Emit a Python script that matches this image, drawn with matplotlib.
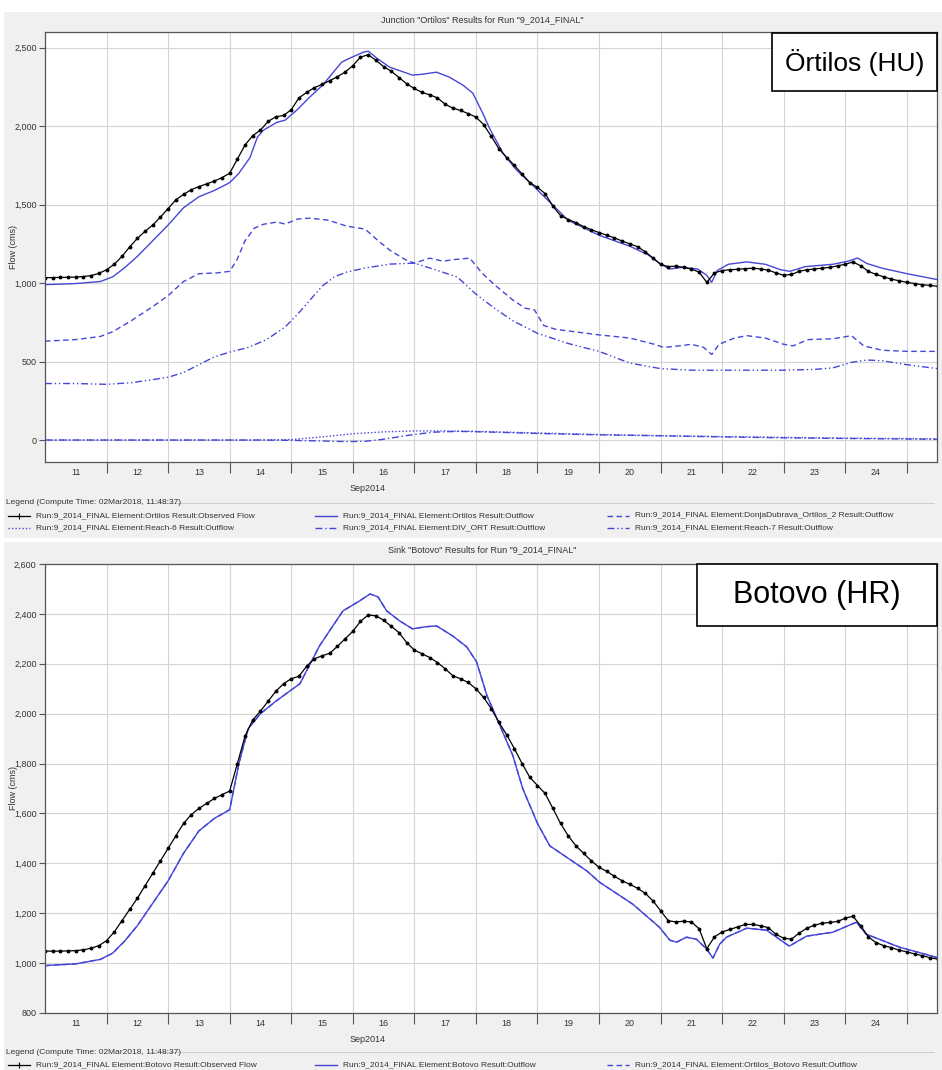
import matplotlib
matplotlib.use("Agg")
import matplotlib.pyplot as plt
from matplotlib.lines import Line2D
from matplotlib.patches import Rectangle
from matplotlib.ticker import FixedLocator, FuncFormatter
import numpy as np

plt.rcParams['font.family'] = ['Liberation Sans Narrow', 'Liberation Sans', 'DejaVu Sans']

W, H, DPI = 942, 1070, 100

# ---- data (day of Sep 2014, flow in cms) ----
OBS_START, OBS_STEP = 11.0, 0.125   # observed flow every 3 hours

ORT_OBS = [
    1035, 1035, 1036, 1037, 1038, 1042, 1048, 1062,
    1085, 1120, 1170, 1230, 1285, 1330, 1370, 1420,
    1475, 1530, 1565, 1595, 1615, 1632, 1650, 1672,
    1700, 1790, 1880, 1940, 1975, 2030, 2060, 2068,
    2105, 2180, 2215, 2245, 2266, 2290, 2315, 2345,
    2385, 2440, 2455, 2420, 2380, 2350, 2310, 2270,
    2240, 2215, 2200, 2180, 2140, 2115, 2100, 2080,
    2058, 2010, 1935, 1855, 1800, 1750, 1695, 1640,
    1610, 1570, 1490, 1430, 1405, 1385, 1360, 1340,
    1322, 1305, 1288, 1268, 1250, 1232, 1200, 1160,
    1120, 1105, 1108, 1100, 1090, 1070, 1005, 1065,
    1080, 1085, 1088, 1092, 1095, 1090, 1082, 1065,
    1050, 1055, 1075, 1085, 1090, 1095, 1100, 1110,
    1120, 1135, 1110, 1075, 1055, 1040, 1025, 1015,
    1005, 997, 990, 985, 980,
]

ORT_SIM_T = [11.0, 11.5, 11.9, 12.1, 12.3, 12.5, 12.75, 13.0, 13.25, 13.5, 13.75, 14.0,
             14.15, 14.33, 14.45, 14.55, 14.77, 14.9, 15.09, 15.3, 15.51, 15.82, 15.95,
             16.17, 16.25, 16.39, 16.6, 16.97, 17.13, 17.36, 17.57, 17.79, 17.95, 18.11,
             18.22, 18.44, 18.66, 18.92, 19.2, 19.5, 20.0, 20.5, 20.8, 21.0, 21.15, 21.35,
             21.6, 21.75, 21.83, 21.92, 22.1, 22.4, 22.7, 22.95, 23.1, 23.35, 23.8, 24.05,
             24.2, 24.35, 24.6, 25.0, 25.5]
ORT_SIM_Q = [990, 997, 1010, 1040, 1100, 1170, 1270, 1370, 1480, 1550, 1590, 1640,
             1700, 1800, 1930, 1975, 2025, 2038, 2102, 2185, 2261, 2408, 2433,
             2471, 2478, 2433, 2376, 2325, 2331, 2344, 2312, 2261, 2210, 2083,
             1987, 1828, 1720, 1624, 1516, 1400, 1305, 1235, 1180, 1120, 1090, 1100,
             1090, 1050, 1005, 1080, 1120, 1135, 1120, 1085, 1075, 1105, 1120, 1140,
             1160, 1125, 1095, 1060, 1022]

DONJA_T = [11.0, 11.5, 11.9, 12.1, 12.4, 12.75, 13.0, 13.25, 13.5, 13.8, 14.0, 14.12,
           14.25, 14.4, 14.55, 14.77, 14.9, 15.1, 15.3, 15.6, 15.9, 16.2, 16.4, 16.6,
           16.85, 17.0, 17.25, 17.46, 17.65, 17.9, 18.1, 18.3, 18.6, 18.8, 18.95, 19.1,
           19.3, 19.6, 20.0, 20.5, 20.9, 21.05, 21.3, 21.5, 21.7, 21.83, 21.95, 22.2,
           22.4, 22.7, 23.0, 23.15, 23.4, 23.8, 24.1, 24.3, 24.6, 25.0, 25.5]
DONJA_Q = [630, 640, 660, 690, 760, 850, 920, 1010, 1060, 1065, 1075, 1150,
           1270, 1350, 1375, 1389, 1376, 1408, 1414, 1401, 1363, 1344, 1274, 1210,
           1150, 1127, 1159, 1140, 1150, 1159, 1064, 990, 892, 840, 830, 730,
           705, 690, 670, 650, 610, 590, 600, 610, 590, 545, 610, 650,
           665, 650, 610, 600, 640, 645, 665, 600, 572, 565, 565]

REACH7_T = [11.0, 11.5, 12.0, 12.4, 12.75, 13.0, 13.25, 13.5, 13.75, 14.0, 14.3, 14.6,
            14.9, 15.1, 15.3, 15.5, 15.7, 15.9, 16.2, 16.6, 17.0, 17.36, 17.7, 18.0,
            18.3, 18.6, 19.0, 19.5, 20.0, 20.5, 21.0, 21.5, 22.0, 23.0, 23.5, 23.8,
            24.1, 24.35, 24.6, 25.0, 25.5]
REACH7_Q = [360, 360, 355, 365, 385, 400, 430, 480, 530, 560, 590, 640,
            720, 800, 890, 980, 1040, 1070, 1096, 1121, 1127, 1083, 1038, 930,
            840, 760, 680, 615, 565, 490, 455, 445, 445, 445, 450, 460,
            495, 510, 505, 480, 455]

REACH6_T = [11.0, 14.5, 15.0, 15.5, 16.0, 16.5, 17.0, 17.5, 18.0, 18.5, 19.0, 20.0,
            21.0, 22.0, 23.0, 24.0, 25.5]
REACH6_Q = [0, 0, 3, 20, 40, 52, 58, 58, 55, 50, 45, 35, 28, 22, 17, 12, 8]

DIV_T = [11.0, 14.5, 15.0, 15.5, 15.9, 16.2, 16.5, 16.9, 17.3, 17.7, 18.0, 18.5,
         19.0, 20.0, 21.0, 22.0, 23.0, 24.0, 25.5]
DIV_Q = [0, 0, -2, -6, -10, -8, 5, 30, 50, 55, 53, 48, 42, 33, 27, 20, 14, 10, 5]

BOT_OBS = [
    1048, 1048, 1048, 1049, 1050, 1053, 1060, 1070,
    1090, 1125, 1170, 1215, 1260, 1310, 1360, 1410,
    1460, 1510, 1560, 1595, 1620, 1640, 1660, 1675,
    1690, 1800, 1910, 1975, 2010, 2050, 2090, 2120,
    2140, 2150, 2190, 2220, 2232, 2242, 2270, 2300,
    2330, 2370, 2396, 2392, 2375, 2350, 2325, 2285,
    2255, 2240, 2225, 2205, 2180, 2152, 2140, 2125,
    2100, 2065, 2020, 1965, 1915, 1860, 1800, 1745,
    1712, 1680, 1620, 1560, 1510, 1470, 1440, 1410,
    1384, 1368, 1348, 1330, 1316, 1300, 1280, 1250,
    1210, 1170, 1165, 1168, 1165, 1138, 1058, 1105,
    1125, 1135, 1145, 1155, 1155, 1150, 1142, 1115,
    1100, 1096, 1120, 1140, 1152, 1160, 1163, 1167,
    1180, 1188, 1150, 1105, 1082, 1070, 1062, 1052,
    1045, 1037, 1030, 1022, 1016,
]

BOT_SIM_T = [11.0, 11.5, 11.9, 12.1, 12.3, 12.5, 12.75, 13.0, 13.25, 13.5, 13.75, 14.0,
             14.15, 14.3, 14.5, 14.75, 15.14, 15.46, 15.84, 16.11, 16.28, 16.41, 16.55,
             16.76, 16.97, 17.17, 17.36, 17.62, 17.85, 18.01, 18.18, 18.39, 18.6, 18.76,
             19.0, 19.2, 19.5, 19.8, 20.01, 20.55, 20.98, 21.15, 21.26, 21.42, 21.58,
             21.75, 21.85, 21.96, 22.07, 22.4, 22.72, 23.09, 23.37, 23.8, 24.18, 24.34,
             24.88, 25.5]
BOT_SIM_Q = [990, 997, 1015, 1040, 1090, 1150, 1240, 1330, 1440, 1530, 1580, 1615,
             1800, 1940, 2000, 2050, 2120, 2272, 2412, 2452, 2480, 2468, 2412,
             2372, 2340, 2348, 2352, 2312, 2268, 2208, 2072, 1952, 1832, 1700,
             1560, 1470, 1420, 1370, 1324, 1236, 1144, 1092, 1084, 1104, 1096,
             1056, 1020, 1076, 1104, 1140, 1132, 1068, 1108, 1124, 1164, 1116,
             1064, 1022]

DAY_LABELS = ['11', '12', '13', '14', '15', '16', '17', '18', '19', '20', '21', '22', '23', '24']

BLUE = '#4646d8'
GRAY_BG = '#f0f0f0'
TXT = '#333333'
RUN = 'Run:9_2014_FINAL Element:'

fig = plt.figure(figsize=(W / DPI, H / DPI), dpi=DPI)
fig.patch.set_facecolor('white')


def fx(x):
    return x / W


def fy(y):
    return 1 - y / H


def style(kind):
    if kind == 'obs':
        return dict(color='black', lw=0.9)
    if kind == 'sim':
        return dict(color=BLUE, lw=1.0)
    if kind == 'dash':
        return dict(color=BLUE, lw=1.0, dashes=(4, 2.5))
    if kind == 'dot':
        return dict(color=BLUE, lw=1.0, dashes=(1, 1.5))
    if kind == 'dashdot':
        return dict(color=BLUE, lw=1.0, dashes=(5, 2, 1, 2))
    if kind == 'dashdotdot':
        return dict(color=BLUE, lw=1.0, dashes=(5, 2, 1, 2, 1, 2))


def panel(top, bottom, ax_top, ax_bot, ymin, ymax, yticks, title):
    fig.patches.append(Rectangle((fx(4), fy(bottom)), fx(W - 4), fy(top) - fy(bottom),
                                 transform=fig.transFigure, facecolor=GRAY_BG,
                                 edgecolor='none', zorder=-10))
    fig.text(fx(482), fy(top + 8), title, ha='center', va='center', fontsize=6.5, color=TXT)
    ax = fig.add_axes([fx(45), fy(ax_bot), fx(937 - 45), fy(ax_top) - fy(ax_bot)])
    ax.set_facecolor('white')
    ax.set_xlim(11, 25.49)
    ax.set_ylim(ymin, ymax)
    ax.xaxis.set_major_locator(FixedLocator(np.arange(12, 26)))
    ax.xaxis.set_minor_locator(FixedLocator(np.arange(11.5, 25, 1.0)))
    ax.xaxis.set_major_formatter(FuncFormatter(lambda v, p: ''))
    ax.set_xticklabels(DAY_LABELS, minor=True)
    ax.tick_params(axis='x', which='major', length=8, width=0.8, color='#555555', direction='out')
    ax.tick_params(axis='x', which='minor', length=0, labelsize=6.5, labelcolor=TXT, pad=4)
    ax.set_yticks(yticks)
    ax.yaxis.set_major_formatter(FuncFormatter(lambda v, p: f'{int(v):,}'))
    ax.tick_params(axis='y', length=4, width=0.8, color='#555555', labelsize=6.5,
                   labelcolor=TXT, pad=2)
    ax.grid(True, which='major', color='#d4d4d4', lw=0.8)
    ax.set_axisbelow(True)
    for s in ax.spines.values():
        s.set_color('#555555')
        s.set_linewidth(0.9)
    fig.text(fx(13), fy((ax_top + ax_bot) / 2), 'Flow (cms)', rotation=90, ha='center',
             va='center', fontsize=6.5, color=TXT)
    fig.text(fx(368), fy(ax_bot + 27), 'Sep2014', ha='center', va='center', fontsize=6.5, color=TXT)
    return ax


def legend(y_header, rows):
    fig.text(fx(6), fy(y_header), 'Legend (Compute Time: 02Mar2018, 11:48:37)',
             ha='left', va='center', fontsize=6, color=TXT)
    fig.add_artist(Line2D([fx(150), fx(W - 8)], [fy(y_header), fy(y_header)],
                          transform=fig.transFigure, color='#c8c8c8', lw=0.6))
    for r, row in enumerate(rows):
        y = y_header + 12.5 * (r + 1)
        for c, (kind, label) in enumerate(row):
            x0 = [8, 315, 607][c]
            fig.add_artist(Line2D([fx(x0), fx(x0 + 22)], [fy(y), fy(y)],
                                  transform=fig.transFigure, **style(kind)))
            if kind == 'obs':
                fig.add_artist(Line2D([fx(x0 + 11)], [fy(y)], transform=fig.transFigure,
                                      marker='+', color='black', ms=4, mew=0.8, lw=0))
            fig.text(fx(x0 + 28), fy(y), label, ha='left', va='center', fontsize=6, color=TXT)


def label_box(x0, x1, y0, y1, text, size):
    fig.patches.append(Rectangle((fx(x0), fy(y1)), fx(x1 - x0), fy(y0) - fy(y1),
                                 transform=fig.transFigure, facecolor='white',
                                 edgecolor='black', lw=1.2, zorder=20))
    fig.text(fx((x0 + x1) / 2), fy((y0 + y1) / 2), text, ha='center', va='center',
             fontsize=size, family=['Liberation Sans', 'DejaVu Sans'], color='black', zorder=21)


# ---- top panel: Ortilos ----
ax1 = panel(12, 538, 32, 462, -140, 2600, np.arange(0, 2501, 500),
            'Junction "Ortilos" Results for Run "9_2014_FINAL"')
ax1.plot(REACH6_T, REACH6_Q, **style('dot'))
ax1.plot(DIV_T, DIV_Q, **style('dashdot'))
ax1.plot(REACH7_T, REACH7_Q, **style('dashdotdot'))
ax1.plot(DONJA_T, DONJA_Q, **style('dash'))
ax1.plot(ORT_SIM_T, ORT_SIM_Q, **style('sim'))
t_obs = OBS_START + OBS_STEP * np.arange(len(ORT_OBS))
ax1.plot(t_obs, ORT_OBS, marker='o', ms=1.8, **style('obs'))

legend(503, [
    [('obs', RUN + 'Ortilos Result:Observed Flow'), ('sim', RUN + 'Ortilos Result:Outflow'),
     ('dash', RUN + 'DonjaDubrava_Ortilos_2 Result:Outflow')],
    [('dot', RUN + 'Reach-6 Result:Outflow'), ('dashdot', RUN + 'DIV_ORT Result:Outflow'),
     ('dashdotdot', RUN + 'Reach-7 Result:Outflow')],
])
label_box(772, 937, 33, 91, 'Örtilos (HU)', 19)

# ---- bottom panel: Botovo ----
ax2 = panel(542, 1070, 564, 1013, 800, 2600, np.arange(800, 2601, 200),
            'Sink "Botovo" Results for Run "9_2014_FINAL"')
ax2.plot(BOT_SIM_T, BOT_SIM_Q, **style('dash'))
ax2.plot(BOT_SIM_T, BOT_SIM_Q, **style('sim'))
t_obs2 = OBS_START + OBS_STEP * np.arange(len(BOT_OBS))
ax2.plot(t_obs2, BOT_OBS, marker='o', ms=1.8, **style('obs'))

legend(1052, [
    [('obs', RUN + 'Botovo Result:Observed Flow'), ('sim', RUN + 'Botovo Result:Outflow'),
     ('dash', RUN + 'Ortilos_Botovo Result:Outflow')],
])
label_box(697, 937, 564, 626, 'Botovo (HR)', 22)

fig.savefig('out.png', dpi=DPI, facecolor='white')
